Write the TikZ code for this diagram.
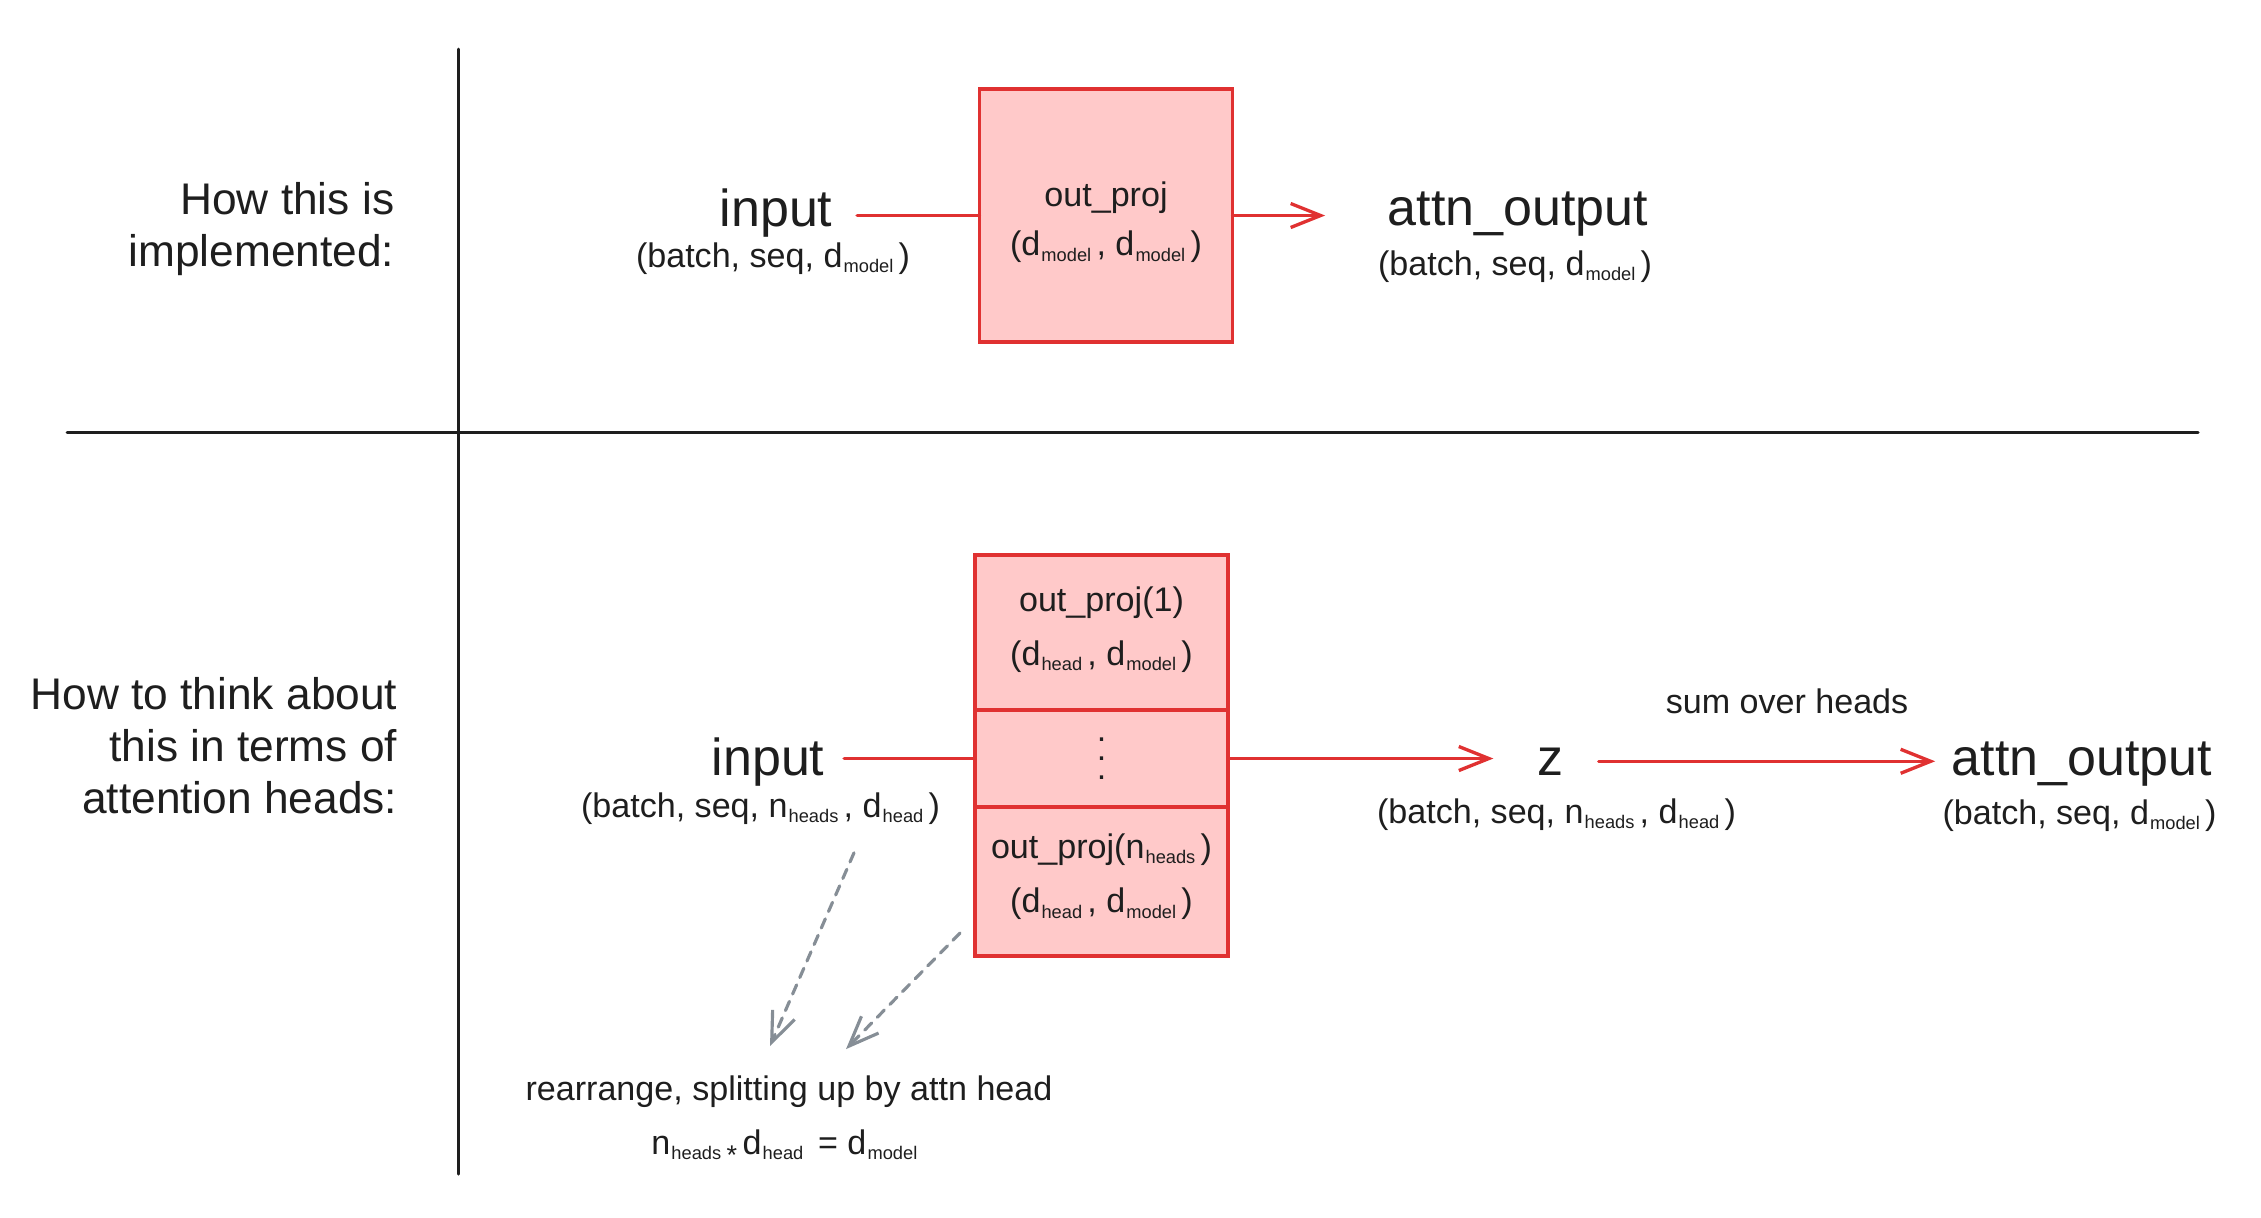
\documentclass[tikz,border=0pt]{standalone}
\usepackage{fontspec}
\setmainfont{Liberation Sans}
\usetikzlibrary{calc,positioning,arrows.meta}
\definecolor{ink}{HTML}{1E1E1E}
\definecolor{projred}{HTML}{E03131}
\definecolor{projfill}{HTML}{FFC9C9}
\definecolor{hintgray}{HTML}{868E96}
\newcommand{\lo}[1]{\kern0.3pt\raisebox{-1.5pt}{\fontsize{5.2}{6}\selectfont #1}\kern1.5pt}

\begin{document}
\begin{tikzpicture}[
  every node/.style={text=ink,inner sep=0pt},
  big/.style={font=\fontsize{14.8}{17}\selectfont},
  small/.style={font=\fontsize{9.7}{11.6}\selectfont},
  side/.style={font=\fontsize{12.6}{14.8}\selectfont,align=right},
  proj/.style={draw=projred,fill=projfill,line width=1pt,outer sep=0pt,minimum width=2.53cm,align=center},
  link/.style={draw=projred,line width=0.95pt,line cap=round},
  tip/.style={-{Straight Barb[length=3mm,width=2.4mm]}},
  hint/.style={draw=hintgray,line width=0.9pt,line cap=round,dash pattern=on 1mm off 0.8mm,tip}
]
  \useasboundingbox (0,0) rectangle (22.61,-12.17);

  % Axes
  \draw[ink,line width=0.85pt,line cap=round] (4.58,-0.49) -- (4.58,-11.74);
  \draw[ink,line width=0.85pt,line cap=round] (0.67,-4.32) -- (21.98,-4.32);

  % Row labels
  \node[side,anchor=east] (implemented) at (3.95,-2.29) {How this is\\implemented:};
  \node[side,anchor=east] (thinking) at (3.98,-7.46) {How to think about\\this in terms of\\attention heads:};

  % Implementation
  \node[big,anchor=base] (input) at (7.76,-2.26) {input};
  \node[small,anchor=base] (inshape) at (7.73,-2.67) {(batch, seq, d\lo{model})};
  \node[proj,minimum height=2.53cm,font=\fontsize{9.7}{13.9}\selectfont] (proj) at (11.06,-2.155) {\rule{0pt}{11pt}out\_proj\\(d\lo{model}, d\lo{model})};
  \node[big,anchor=base] (output) at (15.18,-2.25) {attn\_output};
  \node[small,anchor=base] (outshape) at (15.15,-2.75) {(batch, seq, d\lo{model})};

  \draw[link,shorten <=0.24cm] (input.east |- proj.west) -- (proj.west);
  \draw[link,tip,shorten >=0.62cm] (proj.east) -- (proj.east -| output.west);

  % Attention heads
  \node[big,anchor=base] (input2) at (7.68,-7.75) {input};
  \node[small,anchor=base] (inshape2) at (7.605,-8.17) {(batch, seq, n\lo{heads}, d\lo{head})};
  \node[proj,minimum height=1.55cm,font=\fontsize{9.7}{15.3}\selectfont] (head1) at (11.015,-6.325) {out\_proj(1)\\(d\lo{head}, d\lo{model})\rule[-3.7pt]{0pt}{3.7pt}};
  \node[proj,minimum height=0.97cm,below=0pt of head1,font=\fontsize{9.7}{5.5}\selectfont] (heads) {.\\.\\.};
  \node[proj,minimum height=1.49cm,below=0pt of heads,font=\fontsize{9.7}{15.6}\selectfont] (headn) {out\_proj(n\lo{heads})\\(d\lo{head}, d\lo{model})\rule[-4.8pt]{0pt}{4.8pt}};

  \node[big,anchor=base] (z) at (15.50,-7.75) {z};
  \node[small,anchor=base] (zshape) at (15.565,-8.23) {(batch, seq, n\lo{heads}, d\lo{head})};
  \node[small,anchor=base] (sum) at (17.87,-7.13) {sum over heads};
  \node[big,anchor=base] (output2) at (20.82,-7.75) {attn\_output};
  \node[small,anchor=base] (outshape2) at (20.795,-8.24) {(batch, seq, d\lo{model})};

  \draw[link,shorten <=0.19cm] (input2.east |- heads.west) -- (heads.west);
  \draw[link,tip,shorten >=0.43cm] (heads.east) -- (heads.east -| z.west);
  \draw[link,tip,shorten <=0.35cm,shorten >=0.16cm] (z.east) -- (z.east -| output2.west);

  % Rearrange note
  \node[small,anchor=base] (rearr) at (7.89,-11.00) {rearrange, splitting up by attn head};
  \node[small,anchor=base] (dims) at (7.87,-11.54) {n\lo{heads}\raisebox{-3pt}{\fontsize{7.7}{8}\selectfont *}\,d\lo{head}\ = d\lo{model}};

  \draw[hint] ($(inshape2.south)+(0.935,-0.28)$) -- ($(rearr.north)+(-0.19,0.285)$);
  \draw[hint] ($(headn.south west)+(-0.15,0.23)$) -- ($(rearr.north)+(0.57,0.255)$);
\end{tikzpicture}
\end{document}
